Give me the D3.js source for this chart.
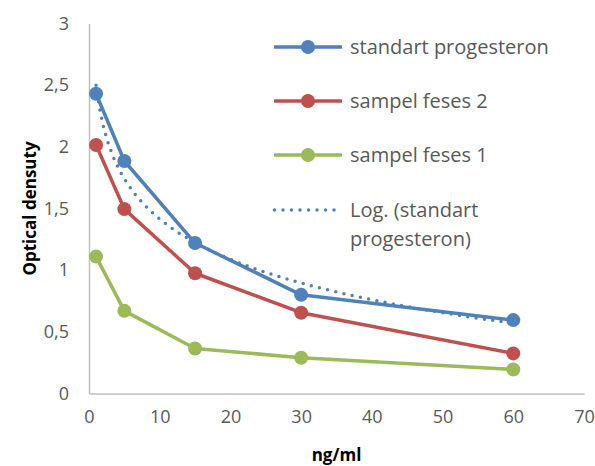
<!DOCTYPE html>
<html>
<head>
<meta charset="utf-8">
<script src="https://cdn.jsdelivr.net/npm/d3@7"></script>
<style>
  body { margin: 0; background: #fff; }
  text { font-family: "Open Sans", sans-serif; }
</style>
</head>
<body>
<svg id="chart" width="595" height="466"></svg>
<script>
// data
var concentrations = [1, 5, 15, 30, 60];
var standartProgesteron = [2.43, 1.885, 1.22, 0.80, 0.595];
var sampelFeses2 = [2.015, 1.495, 0.975, 0.655, 0.325];
var sampelFeses1 = [1.11, 0.67, 0.365, 0.29, 0.195];
var xTicks = [0, 10, 20, 30, 40, 50, 60, 70];
var yTicks = [0, 0.5, 1, 1.5, 2, 2.5, 3];

var series = [
  { name: "standart progesteron", values: standartProgesteron, color: "#4f81bd" },
  { name: "sampel feses 2", values: sampelFeses2, color: "#c0504d" },
  { name: "sampel feses 1", values: sampelFeses1, color: "#9bbb59" }
];

var svg = d3.select("#chart");
var plotLeft = 89, plotRight = 584, plotTop = 23.5, plotBottom = 393.5;

var x = d3.scaleLinear().domain([0, 70]).range([plotLeft, plotRight]);
var y = d3.scaleLinear().domain([0, 3]).range([plotBottom, plotTop]);

var fmt = function(d) { return String(d).replace(".", ","); };

// axes
var yAxis = svg.append("g")
    .attr("transform", "translate(" + plotLeft + ",0)")
    .call(d3.axisLeft(y).tickValues(yTicks).tickSize(0).tickPadding(20).tickFormat(fmt));
var xAxis = svg.append("g")
    .attr("transform", "translate(0," + plotBottom + ")")
    .call(d3.axisBottom(x).tickValues(xTicks).tickSize(0).tickPadding(17).tickFormat(fmt));

[xAxis, yAxis].forEach(function(a) {
  a.select(".domain").attr("stroke", "#bfbfbf").attr("stroke-width", 1.5);
  a.selectAll("text").attr("fill", "#595959").style("font-size", "18px")
    .style("font-family", "'Open Sans', sans-serif");
});

// axis titles
svg.append("text")
    .attr("transform", "translate(30," + ((plotTop + plotBottom) / 2) + ") rotate(-90)")
    .attr("text-anchor", "middle")
    .attr("dy", "0.35em")
    .style("font-size", "17px").style("font-weight", "bold")
    .text("Optical densuty");
svg.append("text")
    .attr("x", (plotLeft + plotRight) / 2)
    .attr("y", 455)
    .attr("text-anchor", "middle")
    .attr("dy", "0.35em")
    .style("font-size", "17px").style("font-weight", "bold")
    .text("ng/ml");

// logarithmic trendline of the standard series (least squares on ln x)
var lx = concentrations.map(Math.log);
var mx = d3.mean(lx), my = d3.mean(standartProgesteron);
var sxy = d3.sum(lx, function(l, i) { return (l - mx) * (standartProgesteron[i] - my); });
var sxx = d3.sum(lx, function(l) { return (l - mx) * (l - mx); });
var slope = sxy / sxx, intercept = my - slope * mx;
var trendX = d3.range(1, 60.01, 0.5);

var line = d3.line()
    .x(function(d) { return x(d[0]); })
    .y(function(d) { return y(d[1]); });

series.slice().reverse().forEach(function(s) {
  var pts = concentrations.map(function(c, i) { return [c, s.values[i]]; });
  svg.append("path")
      .attr("d", line(pts))
      .attr("fill", "none")
      .attr("stroke", s.color)
      .attr("stroke-width", 3.5)
      .attr("stroke-linejoin", "round");
  svg.selectAll(null).data(pts).enter().append("circle")
      .attr("cx", function(d) { return x(d[0]); })
      .attr("cy", function(d) { return y(d[1]); })
      .attr("r", 7)
      .attr("fill", s.color);
});

svg.append("path")
    .attr("d", line(trendX.map(function(t) { return [t, intercept + slope * Math.log(t)]; })))
    .attr("fill", "none")
    .attr("stroke", "#4f81bd")
    .attr("stroke-width", 3.5)
    .attr("stroke-linecap", "round")
    .attr("stroke-dasharray", "0 8.4");

// legend
var legendY = [47, 101, 155];
var legend = svg.append("g");
series.forEach(function(s, i) {
  legend.append("line")
      .attr("x1", 274).attr("x2", 342)
      .attr("y1", legendY[i]).attr("y2", legendY[i])
      .attr("stroke", s.color).attr("stroke-width", 3.5);
  legend.append("circle")
      .attr("cx", 308).attr("cy", legendY[i]).attr("r", 7).attr("fill", s.color);
  legend.append("text")
      .attr("x", 350).attr("y", legendY[i]).attr("dy", "0.35em")
      .attr("fill", "#595959").style("font-size", "20px")
      .text(s.name);
});
legend.append("line")
    .attr("x1", 274.5).attr("x2", 342.5)
    .attr("y1", 210).attr("y2", 210)
    .attr("stroke", "#4f81bd").attr("stroke-width", 3.5)
    .attr("stroke-linecap", "round").attr("stroke-dasharray", "0 8.5");
legend.append("text")
    .attr("x", 350).attr("y", 210).attr("dy", "0.35em")
    .attr("fill", "#595959").style("font-size", "20px")
    .text("Log. (standart");
legend.append("text")
    .attr("x", 350).attr("y", 239).attr("dy", "0.35em")
    .attr("fill", "#595959").style("font-size", "20px")
    .text("progesteron)");
</script>
</body>
</html>
